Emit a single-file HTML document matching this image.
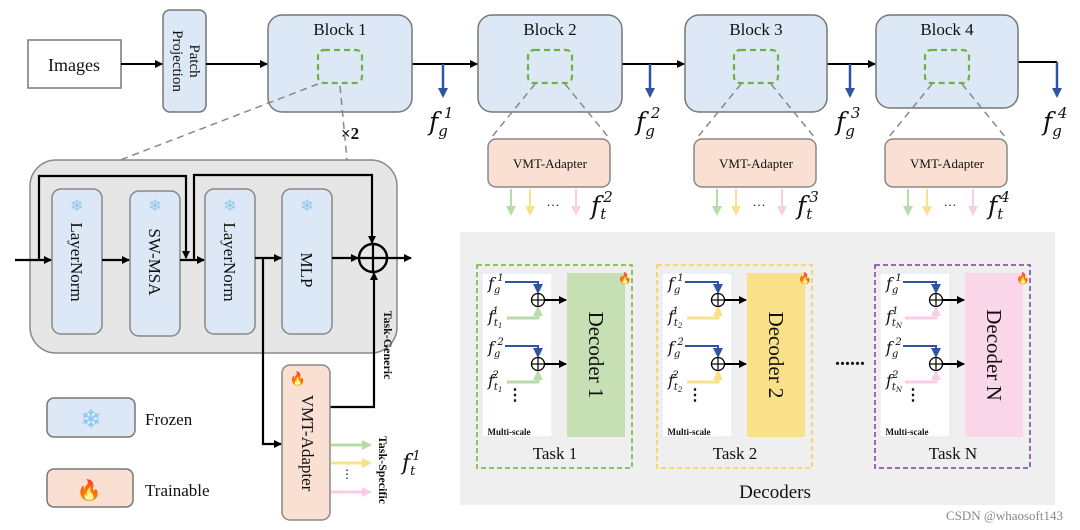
<!DOCTYPE html>
<html><head><meta charset="utf-8"><style>
html,body{margin:0;padding:0;background:#fff;width:1080px;height:530px;overflow:hidden}
svg{display:block}
text{font-family:"Liberation Serif",serif;fill:#111}
.m{font-style:italic;font-family:"DejaVu Serif","Liberation Serif",serif}
</style></head><body>
<svg id="s" width="1080" height="530" viewBox="0 0 1080 530" xmlns="http://www.w3.org/2000/svg">
<defs>
<marker id="ak" markerWidth="8" markerHeight="8" refX="7" refY="4" orient="auto" markerUnits="userSpaceOnUse"><path d="M0,0 L8,4 L0,8z" fill="#000"/></marker>
<marker id="ab" markerWidth="10" markerHeight="10" refX="8" refY="5" orient="auto" markerUnits="userSpaceOnUse"><path d="M0,0 L10,5 L0,10z" fill="#2f55a0"/></marker>
<marker id="ag" markerWidth="10" markerHeight="10" refX="8" refY="5" orient="auto" markerUnits="userSpaceOnUse"><path d="M0,0 L10,5 L0,10z" fill="#b9dca6"/></marker>
<marker id="ay" markerWidth="10" markerHeight="10" refX="8" refY="5" orient="auto" markerUnits="userSpaceOnUse"><path d="M0,0 L10,5 L0,10z" fill="#fbe08a"/></marker>
<marker id="ap" markerWidth="10" markerHeight="10" refX="8" refY="5" orient="auto" markerUnits="userSpaceOnUse"><path d="M0,0 L10,5 L0,10z" fill="#f9cde3"/></marker>
</defs>
<rect x="28" y="40" width="93" height="48" fill="#fff" stroke="#777" stroke-width="1.5"/>
<text x="74" y="71" font-size="18" text-anchor="middle">Images</text>
<rect x="163" y="10" width="43" height="102" rx="7" fill="#dce8f5" stroke="#777" stroke-width="1.5"/>
<text transform="translate(190,61) rotate(90)" font-size="15" text-anchor="middle">Patch</text>
<text transform="translate(173,61) rotate(90)" font-size="15" text-anchor="middle">Projection</text>
<g stroke="#000" stroke-width="2" fill="none">
<line x1="121" y1="64" x2="162" y2="64" marker-end="url(#ak)"/>
<line x1="206" y1="64" x2="267" y2="64" marker-end="url(#ak)"/>
<polyline points="412,64 443,64"/>
<line x1="443" y1="64" x2="477" y2="64" marker-end="url(#ak)"/>
<polyline points="622,64 650,64"/>
<line x1="650" y1="64" x2="684" y2="64" marker-end="url(#ak)"/>
<polyline points="827,64 850,64"/>
<line x1="850" y1="64" x2="875" y2="64" marker-end="url(#ak)"/>
<polyline points="1018,62 1057,62"/>
</g>
<g id="blocks"></g>
<text x="350" y="139" font-size="17" font-weight="bold" font-family="Liberation Sans,sans-serif" text-anchor="middle">×2</text>
<g stroke="#888" stroke-width="1.5" stroke-dasharray="7,5" fill="none">
<line x1="318" y1="84" x2="115" y2="162"/><line x1="340" y1="86" x2="347" y2="160"/>
</g>
<rect x="30" y="160" width="367" height="193" rx="26" fill="#e6e6e6" stroke="#888" stroke-width="1.5"/>
<g id="inner"></g>
<g stroke="#000" stroke-width="2.2" fill="none">
<line x1="15" y1="260" x2="51" y2="260" marker-end="url(#ak)"/>
<line x1="102" y1="260" x2="129" y2="260" marker-end="url(#ak)"/>
<line x1="180" y1="260" x2="204" y2="260" marker-end="url(#ak)"/>
<line x1="255" y1="258" x2="281" y2="258" marker-end="url(#ak)"/>
<line x1="332" y1="258" x2="358" y2="258" marker-end="url(#ak)"/>
<line x1="387" y1="258" x2="411" y2="258" marker-end="url(#ak)"/>
<polyline points="39,260 39,176 186,176 186,258" marker-end="url(#ak)"/>
<polyline points="194,260 194,175 372,175 372,243" marker-end="url(#ak)"/>
<polyline points="263,258 263,444 281,444" marker-end="url(#ak)"/>
<polyline points="330,407 374,407 374,273" marker-end="url(#ak)"/>
<circle cx="373" cy="258" r="14" stroke-width="2.4"/>
<line x1="359" y1="258" x2="387" y2="258"/><line x1="373" y1="244" x2="373" y2="272"/>
</g>
<rect x="282" y="365" width="48" height="155" rx="8" fill="#f9e0d2" stroke="#888" stroke-width="1.5"/>
<text transform="translate(300,443) rotate(90)" font-size="17" text-anchor="middle" dy="-2">VMT-Adapter</text>
<text x="298" y="383" font-size="13" text-anchor="middle">🔥</text>
<text transform="translate(384,345) rotate(90)" font-size="12" font-weight="bold" text-anchor="middle">Task-Generic</text>
<text transform="translate(379,470) rotate(90)" font-size="12" font-weight="bold" text-anchor="middle">Task-Specific</text>
<line x1="331" y1="445" x2="370" y2="445" stroke="#b9dca6" stroke-width="3" marker-end="url(#ag)"/>
<line x1="331" y1="463" x2="370" y2="463" stroke="#fbe08a" stroke-width="3" marker-end="url(#ay)"/>
<line x1="331" y1="492" x2="370" y2="492" stroke="#f9cde3" stroke-width="3" marker-end="url(#ap)"/>
<text x="347" y="478" font-size="12" text-anchor="middle">⋮</text>
<text x="402" y="470" font-size="22" class="m">f<tspan font-size="13" dy="5">t</tspan><tspan font-size="13" dy="-15" dx="-3">1</tspan></text>
<rect x="47" y="398" width="88" height="39" rx="7" fill="#dce8f5" stroke="#777" stroke-width="1.5"/>
<text x="91" y="428" font-size="26" text-anchor="middle" style="fill:#8cc8ee">❄</text>
<text x="145" y="425" font-size="17">Frozen</text>
<rect x="47" y="469" width="86" height="38" rx="7" fill="#f9e0d2" stroke="#777" stroke-width="1.5"/>
<text x="89" y="497" font-size="20" text-anchor="middle">🔥</text>
<text x="145" y="496" font-size="17">Trainable</text>
<rect x="460" y="232" width="595" height="273" fill="#efefef"/>
<text x="775" y="498" font-size="19" text-anchor="middle">Decoders</text>
<g id="tasks"></g>
<text x="850" y="365" font-size="20" text-anchor="middle" font-weight="bold">......</text>
<text x="1063" y="520" font-size="13" font-family="Liberation Sans,sans-serif" text-anchor="end" style="fill:#888">CSDN @whaosoft143</text>
</svg>
<script>
function add(id,h){document.getElementById(id).insertAdjacentHTML('beforeend',h);}
const B=[[268,412,1,443,"1"],[478,622,2,650,"2"],[685,827,3,850,"3"],[876,1018,4,1057,"4"]];
B.forEach(([x1,x2,n,ax,k],i)=>{
 const cx=(x1+x2)/2;
 add('blocks',`<rect x="${x1}" y="15" width="${x2-x1}" height="${i==3?93:97}" rx="14" fill="#dce8f5" stroke="#777" stroke-width="1.5"/>
 <text x="${cx}" y="35" font-size="17" text-anchor="middle">Block ${n}</text>
 <rect x="${cx-22}" y="50" width="44" height="33" rx="6" fill="none" stroke="#6cb33f" stroke-width="2.2" stroke-dasharray="6,4"/>
 <line x1="${ax}" y1="${i==3?62:64}" x2="${ax}" y2="96" stroke="#2f55a0" stroke-width="2.5" marker-end="url(#ab)"/>
 <text x="${ax-14}" y="130" font-size="25" class="m">f<tspan font-size="15" dy="6">g</tspan><tspan font-size="15" dy="-18" dx="-4">${k}</tspan></text>`);
 if(i>0){
  const ax1=cx-62, ax2=cx+62;
  add('blocks',`<line x1="${cx-15}" y1="84" x2="${ax1+3}" y2="138" stroke="#888" stroke-width="1.5" stroke-dasharray="7,5"/>
  <line x1="${cx+15}" y1="84" x2="${ax2-3}" y2="138" stroke="#888" stroke-width="1.5" stroke-dasharray="7,5"/>
  <rect x="${ax1}" y="139" width="122" height="48" rx="8" fill="#f9e0d2" stroke="#888" stroke-width="1.5"/>
  <text x="${cx}" y="168" font-size="13" text-anchor="middle">VMT-Adapter</text>
  <line x1="${ax1+23}" y1="189" x2="${ax1+23}" y2="214" stroke="#b9dca6" stroke-width="2" marker-end="url(#ag)"/>
  <line x1="${ax1+42}" y1="189" x2="${ax1+42}" y2="214" stroke="#fbe08a" stroke-width="2" marker-end="url(#ay)"/>
  <line x1="${ax1+88}" y1="189" x2="${ax1+88}" y2="214" stroke="#f9cde3" stroke-width="2" marker-end="url(#ap)"/>
  <text x="${ax1+65}" y="206" font-size="13" text-anchor="middle">…</text>
  <text x="${ax1+103}" y="214" font-size="25" class="m">f<tspan font-size="15" dy="5">t</tspan><tspan font-size="15" dy="-17" dx="-3">${k}</tspan></text>`);
 }
});
[[52,"LayerNorm"],[130,"SW-MSA"],[205,"LayerNorm"],[282,"MLP"]].forEach(([x,t])=>{
 add('inner',`<rect x="${x}" y="${x==130?191:189}" width="50" height="145" rx="9" fill="#dce8f5" stroke="#888" stroke-width="1.5"/>
 <text x="${x+25}" y="211" font-size="16" text-anchor="middle" style="fill:#8cc8ee">❄</text>
 <text transform="translate(${x+19},${x==282?270:262}) rotate(90)" font-size="17" text-anchor="middle">${t}</text>`);
});
const T=[[477,"#6cb33f","#c6e0b4","#b9dca6","1","Task 1","1","ag"],[657,"#f7cd4d","#fbe08a","#fbe08a","2","Task 2","2","ay"],[875,"#7a3ea0","#fad7e8","#f9cde3","N","Task N","N","ap"]];
T.forEach(([x,bc,df,ac,n,lab,sub,mk])=>{
 const w=155;
 let h=`<rect x="${x}" y="265" width="${w}" height="203" fill="none" stroke="${bc}" stroke-width="1.5" stroke-dasharray="5,3"/>
 <rect x="${x+5}" y="273" width="70" height="164" fill="#fff" stroke="#dce8f5"/>
 <rect x="${x+90}" y="273" width="58" height="164" fill="${df}"/>
 <text transform="translate(${x+112},355) rotate(90)" font-size="21" text-anchor="middle">Decoder ${n}</text>
 <text x="${x+148}" y="282" font-size="11" text-anchor="middle">🔥</text>
 <text x="${x+78}" y="459" font-size="17" text-anchor="middle">${lab}</text>
 <text x="${x+32}" y="435" font-size="9" font-weight="bold" text-anchor="middle">Multi-scale</text>
 <text x="${x+38}" y="400" font-size="16" text-anchor="middle" font-weight="bold">⋮</text>`;
 [[0,"1"],[64,"2"]].forEach(([dy,k])=>{
  const px=x+61, py=300+dy;
  h+=`<text x="${x+11}" y="${289+dy}" font-size="16" class="m">f<tspan font-size="10" dy="4">g</tspan><tspan font-size="10" dy="-12" dx="-3">${k}</tspan></text>
  <text x="${x+11}" y="${322+dy}" font-size="16" class="m">f<tspan font-size="10" dy="4">t</tspan><tspan font-size="7" dy="2">${sub}</tspan><tspan font-size="10" dy="-14" dx="-10">${k}</tspan></text>
  <polyline points="${x+28},${282+dy} ${px},${282+dy} ${px},${py-8}" fill="none" stroke="#2f55a0" stroke-width="2" marker-end="url(#ab)"/>
  <polyline points="${x+30},${318+dy} ${px},${318+dy} ${px},${py+8}" fill="none" stroke="${ac}" stroke-width="3" marker-end="url(#${mk})"/>
  <circle cx="${px}" cy="${py}" r="6.5" fill="#fff" stroke="#000" stroke-width="1.3"/>
  <line x1="${px-6.5}" y1="${py}" x2="${px+6.5}" y2="${py}" stroke="#000" stroke-width="1.2"/>
  <line x1="${px}" y1="${py-6.5}" x2="${px}" y2="${py+6.5}" stroke="#000" stroke-width="1.2"/>
  <line x1="${px+7}" y1="${py}" x2="${x+89}" y2="${py}" stroke="#000" stroke-width="2" marker-end="url(#ak)"/>`;
 });
 add('tasks',h);
});
</script>
</body></html>
